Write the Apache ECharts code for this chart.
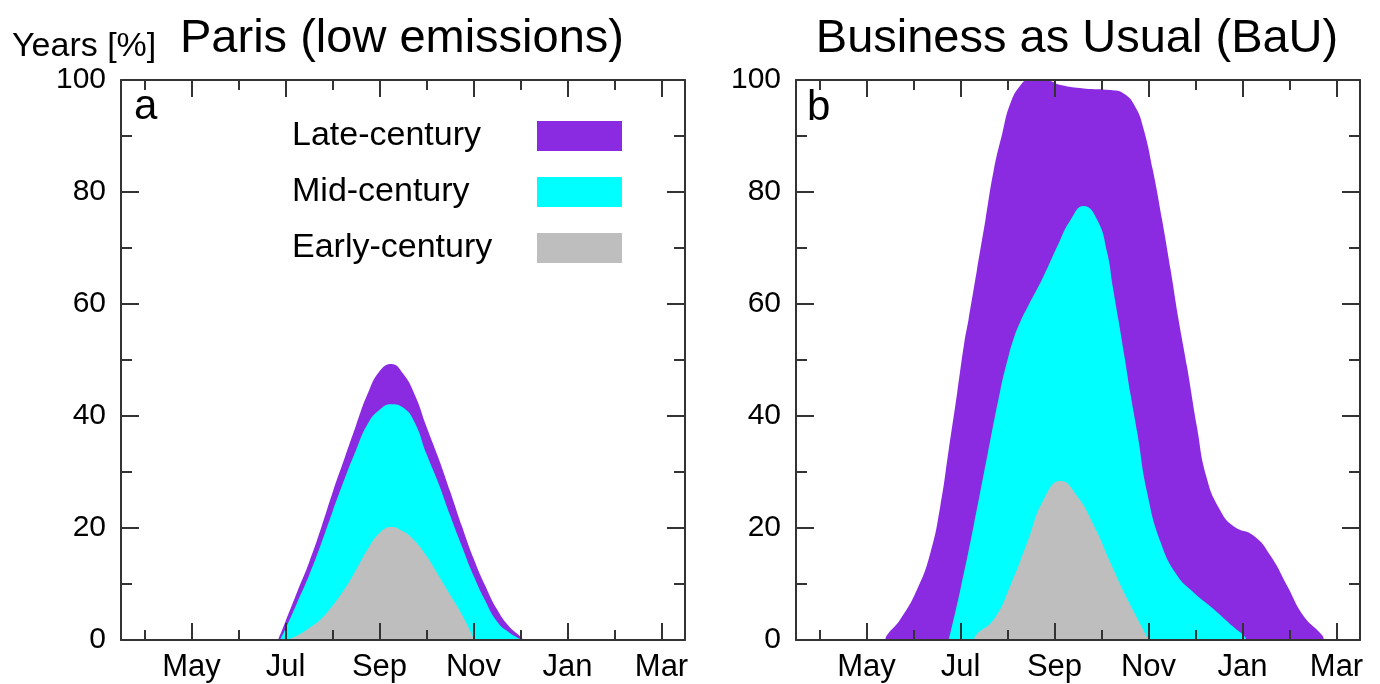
<!DOCTYPE html>
<html>
<head>
<meta charset="utf-8">
<script src="https://cdn.jsdelivr.net/npm/echarts@6/dist/echarts.min.js"></script>
<style>
html,body{margin:0;padding:0;background:#fff;}
#chart{width:1380px;height:684px;}
</style>
</head>
<body>
<div id="chart"></div>
<script>
// Month axis: Apr = 1, May = 2, ... Mar = 12
const majorMonths = [2, 4, 6, 8, 10, 12];
const minorMonths = [1, 3, 5, 7, 9, 11];
const monthLabels = ['May', 'Jul', 'Sep', 'Nov', 'Jan', 'Mar'];
const seriesNames = ['Late-century', 'Mid-century', 'Early-century'];
const seriesColors = ['#8A2BE2', '#00FFFF', '#BEBEBE'];
const panelTitles = ['Paris (low emissions)', 'Business as Usual (BaU)'];
const panelLetters = ['a', 'b'];

// Panel a: Paris (low emissions)  [month, % of years]
const parisLate = [[3.84,0],[4.00,3.3],[4.25,8.6],[4.50,13.8],[4.75,19.8],[5.00,26.3],[5.25,32.3],[5.50,38.3],[5.75,44.0],[6.00,48.0],[6.25,49.3],[6.50,47.6],[6.75,43.8],[7.00,38.1],[7.25,32.6],[7.50,26.6],[7.75,20.4],[8.00,14.6],[8.25,9.7],[8.50,5.5],[8.75,2.5],[9.00,0.6],[9.07,0]];
const parisMid = [[3.88,0],[4.00,2.0],[4.25,6.7],[4.50,11.5],[4.75,17.0],[5.00,22.9],[5.25,28.6],[5.50,33.9],[5.75,38.6],[6.00,41.1],[6.25,42.1],[6.50,41.5],[6.75,38.8],[7.00,33.2],[7.25,28.1],[7.50,22.3],[7.75,16.8],[8.00,11.5],[8.25,7.0],[8.50,3.3],[8.75,1.4],[9.04,0]];
const parisEarly = [[4.03,0],[4.25,0.8],[4.50,2.1],[4.75,3.7],[5.00,6.1],[5.25,9.0],[5.50,12.5],[5.75,16.2],[6.00,19.1],[6.25,20.2],[6.50,19.4],[6.75,17.7],[7.00,15.0],[7.25,11.6],[7.50,8.1],[7.75,4.6],[8.02,0]];

// Panel b: Business as Usual  [month, % of years]
const bauLate = [[2.40,0],[2.43,0.8],[2.72,3.7],[3.08,9.1],[3.36,15.6],[3.57,23.9],[3.75,34.0],[3.93,44.2],[4.08,53.1],[4.17,57.2],[4.35,66.1],[4.53,75.0],[4.71,84.0],[4.89,90.5],[5.06,95.8],[5.28,99.1],[5.45,100],[5.84,99.9],[6.13,99.1],[6.62,98.5],[7.19,98.2],[7.47,97.6],[7.72,95.2],[7.90,91.1],[8.09,84.0],[8.29,75.0],[8.47,66.1],[8.64,57.2],[8.82,48.8],[9.03,38.1],[9.23,29.2],[9.51,23.4],[9.81,20.3],[10.24,18.6],[10.60,15.0],[10.95,9.7],[11.30,4.3],[11.70,0.8],[11.73,0]];
const bauMid = [[3.75,0],[4.00,9.1],[4.28,20.4],[4.57,32.9],[4.85,44.7],[5.00,50.0],[5.13,53.8],[5.27,56.8],[5.45,59.8],[5.77,65.0],[6.06,70.3],[6.34,75.0],[6.62,77.5],[6.91,75.0],[7.12,69.2],[7.24,63.1],[7.36,57.2],[7.49,50.6],[7.62,43.8],[7.76,37.1],[7.97,26.4],[8.26,17.4],[8.61,11.5],[8.96,8.5],[9.39,5.5],[9.81,2.3],[10.06,0.5],[10.08,0]];
const bauEarly = [[4.29,0],[4.32,0.8],[4.71,3.7],[5.06,9.7],[5.42,17.4],[5.77,25.1],[6.13,28.4],[6.48,25.7],[6.84,20.4],[7.19,13.8],[7.55,7.3],[7.97,0.5],[7.99,0]];

const panelData = [[parisLate, parisMid, parisEarly], [bauLate, bauMid, bauEarly]];

const FONT = '"Liberation Sans", Arial, sans-serif';
const AX = '#333333';
const grids = [
  {left: 121, top: 80, width: 564, height: 560},
  {left: 796, top: 80, width: 564, height: 560}
];

const xAxes = [];
const yAxes = [];
grids.forEach((g, gi) => {
  const base = {gridIndex: gi, type: 'value', min: 0.5, max: 12.5, z: 10, splitLine: {show: false}};
  ['bottom', 'top'].forEach(pos => {
    xAxes.push(Object.assign({}, base, {
      position: pos,
      axisLine: {show: true, onZero: false, lineStyle: {color: AX, width: 2}},
      axisTick: {show: true, inside: true, length: 17, customValues: majorMonths, lineStyle: {color: AX, width: 2}},
      axisLabel: pos === 'bottom' ? {
        show: true, customValues: majorMonths, margin: 12,
        fontSize: 31, color: '#000', fontFamily: FONT,
        formatter: v => monthLabels[majorMonths.indexOf(Math.round(v))] || ''
      } : {show: false}
    }));
    xAxes.push(Object.assign({}, base, {
      position: pos,
      axisLine: {show: false, onZero: false},
      axisTick: {show: true, inside: true, length: 10, customValues: minorMonths, lineStyle: {color: AX, width: 2}},
      axisLabel: {show: false}
    }));
  });
  ['left', 'right'].forEach(pos => {
    yAxes.push({
      gridIndex: gi, type: 'value', min: 0, max: 100, interval: 20, position: pos, z: 10,
      axisLine: {show: true, onZero: false, lineStyle: {color: AX, width: 2}},
      axisTick: {show: true, inside: true, length: 18, lineStyle: {color: AX, width: 2}},
      minorTick: {show: true, splitNumber: 2, length: 11, lineStyle: {color: AX, width: 2}},
      splitLine: {show: false},
      minorSplitLine: {show: false},
      axisLabel: pos === 'left' ? {show: true, margin: 15, fontSize: 30, color: '#000', fontFamily: FONT} : {show: false}
    });
  });
});

const series = [];
panelData.forEach((sets, gi) => {
  sets.forEach((d, si) => {
    series.push({
      name: seriesNames[si],
      type: 'line',
      xAxisIndex: gi * 4,
      yAxisIndex: gi * 2,
      data: d,
      smooth: 0.5,
      showSymbol: false,
      symbol: 'none',
      silent: true,
      z: 2 + si * 0.1,
      lineStyle: {width: 0, color: seriesColors[si]},
      itemStyle: {color: seriesColors[si]},
      areaStyle: {color: seriesColors[si], opacity: 1}
    });
  });
});

const titleStyle = {fontSize: 47, fontWeight: 'normal', color: '#000', fontFamily: FONT};
const letterStyle = {fontSize: 42, fontWeight: 'normal', color: '#000', fontFamily: FONT};
const option = {
  animation: false,
  backgroundColor: '#fff',
  title: [
    {text: panelTitles[0], left: 402, top: 16, textAlign: 'center', padding: 0, textStyle: titleStyle},
    {text: panelTitles[1], left: 1077, top: 16, textAlign: 'center', padding: 0, textStyle: titleStyle},
    {text: 'Years [%]', left: 12, top: 30, padding: 0, textStyle: {fontSize: 34, fontWeight: 'normal', color: '#000', fontFamily: FONT}},
    {text: panelLetters[0], left: 134, top: 86, padding: 0, textStyle: letterStyle},
    {text: panelLetters[1], left: 807, top: 87, padding: 0, textStyle: letterStyle}
  ],
  legend: {
    data: seriesNames,
    orient: 'vertical',
    left: 292,
    top: 119,
    padding: 0,
    align: 'right',
    icon: 'rect',
    itemWidth: 85,
    itemHeight: 30,
    itemGap: 22,
    selectedMode: false,
    itemStyle: {borderWidth: 0},
    formatter: name => '{n|' + name + '}',
    textStyle: {
      color: '#000', fontFamily: FONT, fontSize: 34,
      rich: {n: {width: 240, align: 'left', fontSize: 34, lineHeight: 30, color: '#000', fontFamily: FONT}}
    }
  },
  grid: grids,
  xAxis: xAxes,
  yAxis: yAxes,
  series: series
};

const chart = echarts.init(document.getElementById('chart'), null, {renderer: 'canvas'});
chart.setOption(option);
</script>
</body>
</html>
